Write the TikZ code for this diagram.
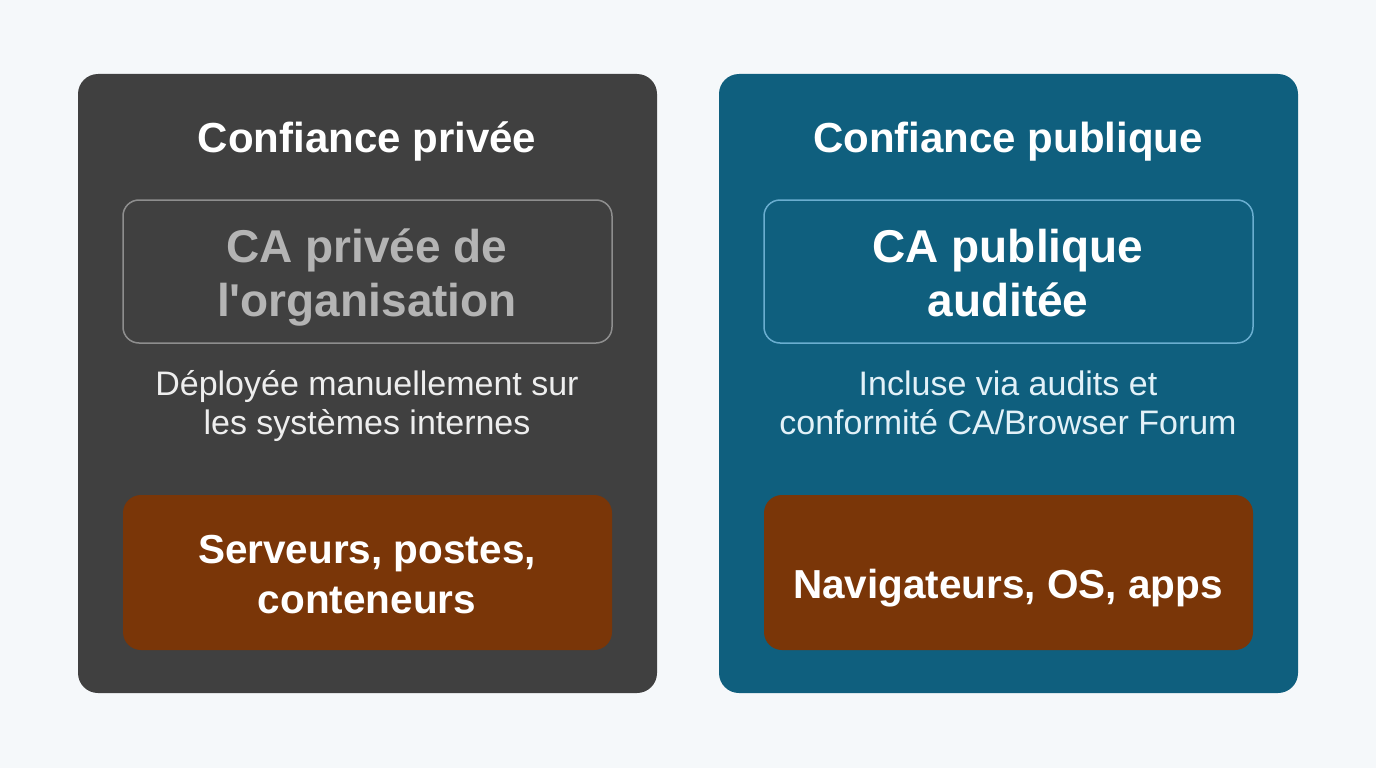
\documentclass[tikz,border=0pt]{standalone}
\usepackage{fontspec}
\setmainfont{Liberation Sans}[Ligatures=TeXOff]
\definecolor{bg}{HTML}{F5F8FA}
\definecolor{panelgray}{HTML}{404040}
\definecolor{panelblue}{HTML}{0F5F7E}
\definecolor{bordergray}{HTML}{8E8E8E}
\definecolor{borderblue}{HTML}{6AAED0}
\definecolor{textgray}{HTML}{B4B4B4}
\definecolor{brown}{HTML}{7A3608}
\definecolor{descgray}{HTML}{EEEEEE}
\definecolor{descblue}{HTML}{E2F1F8}
\tikzset{
  panel/.style={rounded corners=20pt, draw=none},
  innerbox/.style={rounded corners=16pt, line width=1.5pt},
  targetbox/.style={rounded corners=18pt, fill=brown, draw=none},
  titletext/.style={anchor=base, text=white, font=\fontsize{42}{50}\selectfont\bfseries, inner sep=0pt},
  catext/.style={anchor=base, font=\fontsize{46}{55}\selectfont\bfseries, inner sep=0pt},
  desctext/.style={anchor=base, font=\fontsize{34}{40}\selectfont, inner sep=0pt},
  bottomtext/.style={anchor=base, text=white, font=\fontsize{40.5}{48}\selectfont\bfseries, inner sep=0pt},
}
\begin{document}
\begin{tikzpicture}[x=1pt,y=-1pt]
\useasboundingbox (0,0) rectangle (1376,768);
\fill[bg] (0,0) rectangle (1376,768);

% left panel
\fill[panel, panelgray] (78,74) rectangle (657,693);
\draw[innerbox, draw=bordergray, fill=panelgray] (123,200) rectangle (612,343);
\fill[targetbox] (123,495) rectangle (612,650);
\node[titletext] (lt) at (367,152) {Confiance privée};
\node[catext, text=textgray] (lca1) at (367,262) {CA privée de};
\node[catext, text=textgray] (lca2) at (367,316) {l'organisation};
\node[desctext, text=descgray] (ld1) at (367,395) {Déployée manuellement sur};
\node[desctext, text=descgray] (ld2) at (367,434) {les systèmes internes};
\node[bottomtext] (lb1) at (367,563) {Serveurs, postes,};
\node[bottomtext] (lb2) at (367,613) {conteneurs};

% right panel
\fill[panel, panelblue] (719,74) rectangle (1298,693);
\draw[innerbox, draw=borderblue, fill=panelblue] (764,200) rectangle (1253,343);
\fill[targetbox] (764,495) rectangle (1253,650);
\node[titletext] (rt) at (1008,152) {Confiance publique};
\node[catext, text=white] (rca1) at (1008,262) {CA publique};
\node[catext, text=white] (rca2) at (1008,316) {auditée};
\node[desctext, text=descblue] (rd1) at (1008,395) {Incluse via audits et};
\node[desctext, text=descblue] (rd2) at (1008,434) {conformité CA/Browser Forum};
\node[bottomtext] (rb1) at (1008,598) {Navigateurs, OS, apps};
\end{tikzpicture}
\end{document}
